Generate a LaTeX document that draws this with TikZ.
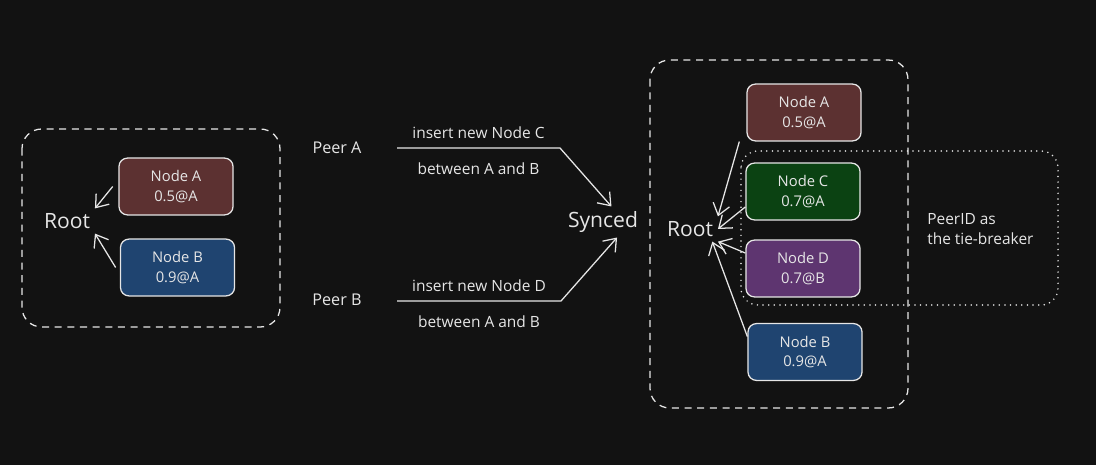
\documentclass[tikz,border=0pt]{standalone}
\usepackage{fontspec}
\setmainfont{Open Sans}
\usetikzlibrary{arrows.meta}

\definecolor{bg}{HTML}{121212}
\definecolor{ink}{HTML}{E6E6E6}
\definecolor{nodered}{HTML}{5C3131}
\definecolor{nodeblue}{HTML}{1F4470}
\definecolor{nodegreen}{HTML}{0B4212}
\definecolor{nodepurple}{HTML}{5E3570}

\tikzset{
  crdt/.style={rectangle,rounded corners=6pt,draw=ink,line width=0.9pt,text=ink,
    minimum width=2.85cm,minimum height=1.42cm,align=center,font=\fontsize{10.5}{14}\selectfont},
  rootlabel/.style={text=ink,font=\fontsize{15}{17}\selectfont},
  peerlabel/.style={text=ink,font=\fontsize{11.5}{13}\selectfont},
  edgelabel/.style={text=ink,font=\fontsize{11}{14}\selectfont},
  sketcharrow/.style={draw=ink,line width=0.9pt,-{Straight Barb[length=8pt,width=12pt]}},
  groupbox/.style={draw=ink,rounded corners=14pt,line width=0.9pt,dash pattern=on 5pt off 4pt},
  tiebox/.style={draw=ink,rounded corners=12pt,line width=1.2pt,line cap=round,dash pattern=on 0pt off 4pt},
}

\begin{document}
\begin{tikzpicture}[x=0.025cm,y=-0.025cm]
	\fill[bg] (0,0) rectangle (1096,465);
	\useasboundingbox (0,0) rectangle (1096,465);

	% before
	\draw[groupbox] (22,129) rectangle (280,327);
	\node[rootlabel] (lroot) at (67,221) {Root};
	\node[crdt,fill=nodered] (lA) at (176,186.5) {Node A\\0.5@A};
	\node[crdt,fill=nodeblue] (lB) at (177.5,267.5) {Node B\\0.9@A};
	\draw[sketcharrow] ([xshift=-4pt]lA.west) -- (lroot.north east);
	\draw[sketcharrow] ([xshift=-3pt]lB.west) -- (lroot.south east);

	% peers
	\node[peerlabel] (peerA) at (337,148) {Peer A};
	\node[peerlabel] (peerB) at (337,300) {Peer B};
	\node[rootlabel] (synced) at (603,222) {Synced};
	\coordinate (aStart) at (397,148);
	\coordinate (aBend) at (560,148);
	\coordinate (bStart) at (397,301);
	\coordinate (bBend) at (561,301);
	\draw[sketcharrow] (aStart) -- node[edgelabel,above=3pt] {insert new Node C}
		node[edgelabel,below=7pt] {between A and B} (aBend) -- ([xshift=6pt]synced.north);
	\draw[sketcharrow] (bStart) -- node[edgelabel,above=3pt] {insert new Node D}
		node[edgelabel,below=7pt] {between A and B} (bBend) -- ([xshift=10pt]synced.south);

	% after
	\draw[groupbox] (650,60) rectangle (908,408);
	\draw[tiebox] (741,151) rectangle (1058,305);
	\node[rootlabel] (rroot) at (690,229) {Root};
	\node[crdt,fill=nodered] (rA) at (804,112.5) {Node A\\0.5@A};
	\node[crdt,fill=nodegreen] (rC) at (803,191.5) {Node C\\0.7@A};
	\node[crdt,fill=nodepurple] (rD) at (803,268.5) {Node D\\0.7@B};
	\node[crdt,fill=nodeblue] (rB) at (805,352) {Node B\\0.9@A};
	\node[edgelabel,anchor=west,align=left,inner sep=0pt] (tie) at (927,229) {PeerID as\\the tie-breaker};
	\draw[sketcharrow] ([xshift=-5pt]rA.south west) -- (rroot.north east);
	\draw[sketcharrow] (rC.195) -- (rroot.east);
	\draw[sketcharrow] (rD.165) -- (rroot.south east);
	\draw[sketcharrow] (rB.165) -- ([xshift=-4pt]rroot.south east);
\end{tikzpicture}
\end{document}
